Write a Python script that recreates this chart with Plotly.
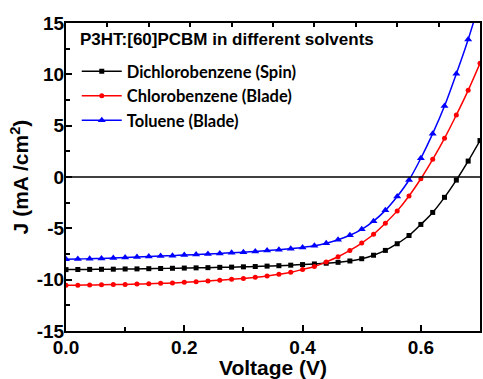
import plotly.graph_objects as go

voltage = [0.00, 0.02, 0.04, 0.06, 0.08, 0.10, 0.12, 0.14, 0.16, 0.18,
           0.20, 0.22, 0.24, 0.26, 0.28, 0.30, 0.32, 0.34, 0.36, 0.38,
           0.40, 0.42, 0.44, 0.46, 0.48, 0.50, 0.52, 0.54, 0.56, 0.58,
           0.60, 0.62, 0.64, 0.66, 0.68, 0.70]

j_dcb_spin = [-9.02, -9.01, -9.00, -8.99, -8.98, -8.96, -8.95, -8.93, -8.91, -8.89,
              -8.87, -8.85, -8.83, -8.80, -8.78, -8.75, -8.72, -8.68, -8.64, -8.59,
              -8.53, -8.47, -8.40, -8.31, -8.18, -7.96, -7.62, -7.15, -6.50, -5.70,
              -4.62, -3.45, -1.98, -0.30, 1.55, 3.55]

j_cb_blade = [-10.55, -10.54, -10.52, -10.50, -10.48, -10.46, -10.43, -10.40, -10.36, -10.32,
              -10.26, -10.20, -10.13, -10.05, -9.97, -9.88, -9.77, -9.64, -9.48, -9.28,
              -9.00, -8.72, -8.27, -7.77, -7.15, -6.43, -5.58, -4.50, -3.30, -1.85,
              -0.17, 1.72, 3.77, 6.04, 8.44, 11.07]

j_tol_blade = [-8.02, -7.99, -7.96, -7.93, -7.88, -7.84, -7.80, -7.75, -7.70, -7.66,
               -7.60, -7.55, -7.50, -7.44, -7.38, -7.32, -7.25, -7.17, -7.08, -6.98,
               -6.86, -6.70, -6.45, -6.12, -5.68, -5.10, -4.30, -3.25, -1.90, -0.29,
               1.82, 4.22, 6.91, 10.06, 13.40, 17.20]

series_names = ["Dichlorobenzene (Spin)", "Chlorobenzene (Blade)", "Toluene (Blade)"]
series_values = [j_dcb_spin, j_cb_blade, j_tol_blade]
series_colors = ["#000000", "#ff0000", "#0000ff"]
series_symbols = ["square", "circle", "triangle-up"]
series_sizes = [5, 5, 7]

chart_label = "P3HT:[60]PCBM in different solvents"

x_ticks = [0.0, 0.2, 0.4, 0.6]
x_ticklabels = ["0.0", "0.2", "0.4", "0.6"]
y_ticks = [-15, -10, -5, 0, 5, 10, 15]
y_ticklabels = ["-15", "-10", "-5", "0", "5", "10", "15"]

fig = go.Figure()
for name, vals, col, sym, sz in zip(series_names, series_values, series_colors,
                                    series_symbols, series_sizes):
    fig.add_trace(go.Scatter(
        x=voltage, y=vals, name=name, mode="lines+markers",
        line=dict(color=col, width=1.5, shape="spline"),
        marker=dict(color=col, symbol=sym, size=sz),
    ))

# zero reference line, drawn on the top axis so that axis is shown
fig.add_trace(go.Scatter(x=[0, 0.7], y=[0, 0], xaxis="x2", mode="lines",
                         line=dict(color="black", width=1.5), showlegend=False,
                         hoverinfo="skip"))

tickfont = dict(family="Liberation Sans", size=19, color="black", weight="bold")

fig.update_layout(
    width=483, height=379,
    margin=dict(l=66, r=1, t=23, b=48),
    paper_bgcolor="white", plot_bgcolor="white",
    xaxis=dict(
        range=[0, 0.7], tickvals=x_ticks, ticktext=x_ticklabels,
        ticks="inside", ticklen=6, tickwidth=1.5, tickcolor="black",
        minor=dict(ticks="inside", dtick=0.1, ticklen=4, tickwidth=1.5, tickcolor="black"),
        showline=True, linecolor="black", linewidth=2, mirror=False,
        showgrid=False, zeroline=False, tickfont=tickfont, ticklabelstandoff=-2,
        title=dict(text="Voltage (V)", standoff=0,
                   font=dict(family="Liberation Sans", size=21, color="black", weight="bold")),
    ),
    xaxis2=dict(
        range=[0, 0.7], overlaying="x", side="top", dtick=0.07, tick0=0,
        ticks="inside", ticklen=4, tickwidth=1.5, tickcolor="black",
        showticklabels=False, showline=True, linecolor="black", linewidth=2,
        showgrid=False, zeroline=False,
    ),
    yaxis=dict(
        range=[-15, 15], tickvals=y_ticks, ticktext=y_ticklabels,
        ticks="inside", ticklen=6, tickwidth=1.5, tickcolor="black",
        minor=dict(ticks="inside", dtick=2.5, ticklen=4, tickwidth=1.5, tickcolor="black"),
        showline=True, linecolor="black", linewidth=2, mirror=True,
        showgrid=False, zeroline=False, tickfont=tickfont, ticklabelstandoff=-4,
        title=dict(text="J (mA /cm<sup>2</sup>)", standoff=2,
                   font=dict(family="Liberation Sans", size=21, color="black", weight="bold")),
    ),
    legend=dict(
        x=0.026, y=0.899, xanchor="left", yanchor="top",
        bgcolor="rgba(0,0,0,0)", borderwidth=0,
        font=dict(family="Lato", size=16.5, color="black", weight="bold"),
        itemwidth=40, tracegroupgap=0,
    ),
    annotations=[dict(
        text=chart_label, xref="paper", yref="paper", x=0.029, y=0.985,
        xanchor="left", yanchor="top", showarrow=False,
        font=dict(family="Liberation Sans", size=17, color="black", weight="bold"),
    )],
)

fig.write_html("out.html")
